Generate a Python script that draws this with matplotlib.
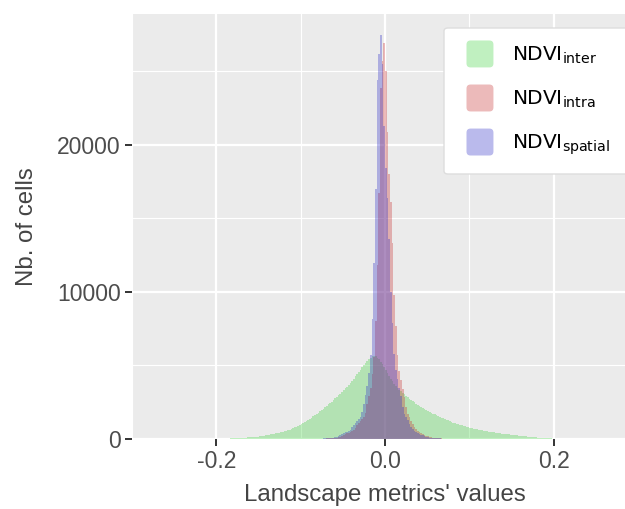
import numpy as np
import matplotlib
matplotlib.use("Agg")
import matplotlib.pyplot as plt
from matplotlib.patches import Patch, FancyBboxPatch
from matplotlib.legend_handler import HandlerBase
from matplotlib.ticker import MultipleLocator

# ---------------- data ----------------
legend_labels = [r"NDVI$_{\mathrm{inter}}$", r"NDVI$_{\mathrm{intra}}$", r"NDVI$_{\mathrm{spatial}}$"]

# NDVI_inter: bins of width 0.002 starting at -0.22
inter_start = -0.22
inter_bw = 0.002
inter_counts = [
    3, 4, 5, 5, 6, 7, 8, 10, 11, 13,
    14, 16, 18, 20, 23, 26, 29, 32, 36, 41,
    46, 51, 57, 63, 70, 78, 86, 94, 103, 113,
    123, 134, 145, 157, 169, 182, 197, 213, 231, 250,
    270, 291, 313, 336, 359, 383, 408, 433, 458, 485,
    520, 560, 600, 642, 686, 735, 790, 848, 908, 975,
    1045, 1115, 1180, 1245, 1315, 1385, 1460, 1540, 1620, 1700,
    1790, 1875, 1965, 2055, 2150, 2250, 2350, 2450, 2550, 2655,
    2760, 2865, 2975, 3085, 3200, 3320, 3440, 3565, 3695, 3830,
    3970, 4110, 4260, 4405, 4555, 4710, 4870, 5030, 5180, 5310,
    5440, 5540, 5620, 5660, 5630, 5540, 5420, 5260, 5090, 4900,
    4700, 4500, 4300, 4110, 3930, 3760, 3620, 3490, 3360, 3240,
    3130, 3030, 2930, 2835, 2745, 2660, 2575, 2490, 2410, 2330,
    2255, 2185, 2115, 2045, 1980, 1915, 1850, 1790, 1730, 1670,
    1615, 1560, 1505, 1455, 1405, 1355, 1305, 1260, 1215, 1170,
    1120, 1080, 1040, 1000, 965, 928, 892, 858, 825, 795,
    765, 736, 708, 682, 657, 633, 610, 587, 565, 545,
    525, 506, 487, 469, 452, 435, 418, 402, 387, 372,
    358, 345, 332, 319, 306, 293, 279, 265, 252, 238,
    225, 211, 197, 183, 169, 155, 141, 128, 116, 104,
    94, 85, 76, 67, 60, 53, 47, 41, 36, 32,
    28, 25, 22, 19, 16, 14, 12, 10, 9, 8,
]

# NDVI_intra and NDVI_spatial: bins of width 0.002 starting at -0.1
fine_start = -0.1
fine_bw = 0.002
intra_counts = [
    4, 5, 5, 6, 7, 8, 9, 10, 12, 14,
    16, 19, 22, 26, 31, 37, 44, 52, 62, 72,
    83, 98, 122, 160, 215, 270, 320, 380, 440, 500,
    560, 630, 780, 920, 1070, 1210, 1350, 1500, 1800, 2350,
    2900, 3500, 4400, 5600, 8000, 11800, 16700, 23900, 25700, 26900,
    25000, 20900, 18000, 16100, 13300, 9800, 7700, 5700, 4600, 4000,
    3400, 2850, 2150, 1670, 1470, 1230, 1030, 820, 650, 560,
    490, 420, 360, 295, 235, 175, 128, 103, 86, 74,
    63, 54, 46, 40, 34, 29, 25, 21, 18, 15,
    13, 11, 10, 9, 8, 7, 6, 5, 5, 4,
]
spatial_counts = [
    8, 9, 10, 11, 13, 14, 16, 18, 20, 23,
    26, 29, 33, 37, 42, 48, 55, 64, 78, 98,
    125, 160, 220, 280, 330, 390, 450, 510, 570, 640,
    790, 940, 1090, 1240, 1380, 1530, 1830, 2400, 2960, 3600,
    4500, 5700, 8150, 12000, 17000, 24400, 26200, 27500, 25500, 21300,
    18400, 16400, 13600, 10000, 7900, 5800, 4700, 4100, 3500, 2900,
    2200, 1700, 1500, 1260, 1050, 840, 660, 570, 500, 430,
    370, 300, 240, 180, 130, 105, 88, 75, 64, 55,
    47, 40, 35, 30, 26, 22, 19, 17, 15, 13,
    11, 10, 9, 8, 7, 6, 5, 5, 4, 4,
]

x_ticks = [-0.2, 0.0, 0.2]
x_ticklabels = ["-0.2", "0.0", "0.2"]
y_ticks = [0, 10000, 20000]
y_ticklabels = ["0", "10000", "20000"]

# ---------------- styling ----------------
colors = ["#4bd44b", "#c93a3a", "#3a3ac9"]
alpha = 0.35
tick_color = "#4d4d4d"

W, H = 625, 509
fig = plt.figure(figsize=(W / 100, H / 100), dpi=100)
# panel spans x 132..638 px (cropped at right), y 14..439 px
ax = fig.add_axes([132 / W, 1 - 439 / H, (638 - 132) / W, (439 - 14) / H])
ax.set_facecolor("#ebebeb")


def edges(start, bw, n):
    return start + bw * np.arange(n + 1)


series = [
    (edges(inter_start, inter_bw, len(inter_counts)), inter_counts),
    (edges(fine_start, fine_bw, len(intra_counts)), intra_counts),
    (edges(fine_start, fine_bw, len(spatial_counts)), spatial_counts),
]
for (e, c), col in zip(series, colors):
    centers = 0.5 * (e[:-1] + e[1:])
    ax.hist(centers, bins=e, weights=c, histtype="stepfilled",
            color=col, alpha=alpha, linewidth=0, zorder=3)

ax.set_xlim(-0.3, 0.3)
ax.set_ylim(0, 28900)

ax.set_xticks(x_ticks)
ax.set_xticklabels(x_ticklabels)
ax.set_yticks(y_ticks)
ax.set_yticklabels(y_ticklabels)
ax.xaxis.set_minor_locator(MultipleLocator(0.1))
ax.yaxis.set_minor_locator(MultipleLocator(5000))
ax.grid(which="major", color="white", linewidth=1.6, zorder=1)
ax.grid(which="minor", color="white", linewidth=0.8, zorder=1)
ax.set_axisbelow(True)
for s in ax.spines.values():
    s.set_visible(False)

ax.tick_params(which="major", length=5, width=1.4, color="#333333",
               labelcolor=tick_color, labelsize=16.5, pad=3)
ax.tick_params(which="minor", length=0)
for lab in ax.get_xticklabels() + ax.get_yticklabels():
    lab.set_fontfamily("Liberation Sans")

ax.set_xlabel("Landscape metrics' values", fontsize=17.3, color="#444444",
              family="Liberation Sans", labelpad=8)
ax.set_ylabel("Nb. of cells", fontsize=17.3, color="#444444",
              family="Liberation Sans", labelpad=14)

KEY_PT = 19.4  # legend key side, points


class RoundKey(HandlerBase):
    def create_artists(self, legend, orig_handle, xdescent, ydescent,
                       width, height, fontsize, trans):
        s = KEY_PT
        x0 = -xdescent + width - s
        y0 = -ydescent + (height - s) / 2
        p = FancyBboxPatch((x0, y0), s, s,
                           boxstyle="round,pad=0,rounding_size=%f" % (s * 0.15),
                           facecolor=orig_handle.get_facecolor(),
                           edgecolor="none", transform=trans)
        return [p]


# legend background box (extends past the cropped right edge)
bg = FancyBboxPatch((444 / W, 1 - 174 / H), (660 - 444) / W, (174 - 28) / H,
                    boxstyle="round,pad=0,rounding_size=0.006",
                    transform=fig.transFigure, facecolor="white",
                    edgecolor="#dddddd", linewidth=1.0, zorder=9, clip_on=False)
ax.add_artist(bg)

handles = [Patch(facecolor=c, alpha=alpha, edgecolor="none") for c in colors]
leg = ax.legend(handles, legend_labels, loc="upper left",
                bbox_to_anchor=(444 / W, 1 - 28 / H),
                bbox_transform=fig.transFigure,
                frameon=False, fontsize=14.5, handlelength=1.835, handleheight=1.68,
                labelspacing=0.85, borderpad=0.62, handletextpad=0.9,
                borderaxespad=0, handler_map={Patch: RoundKey()})
leg.set_zorder(10)

fig.savefig("out.png", dpi=100)
